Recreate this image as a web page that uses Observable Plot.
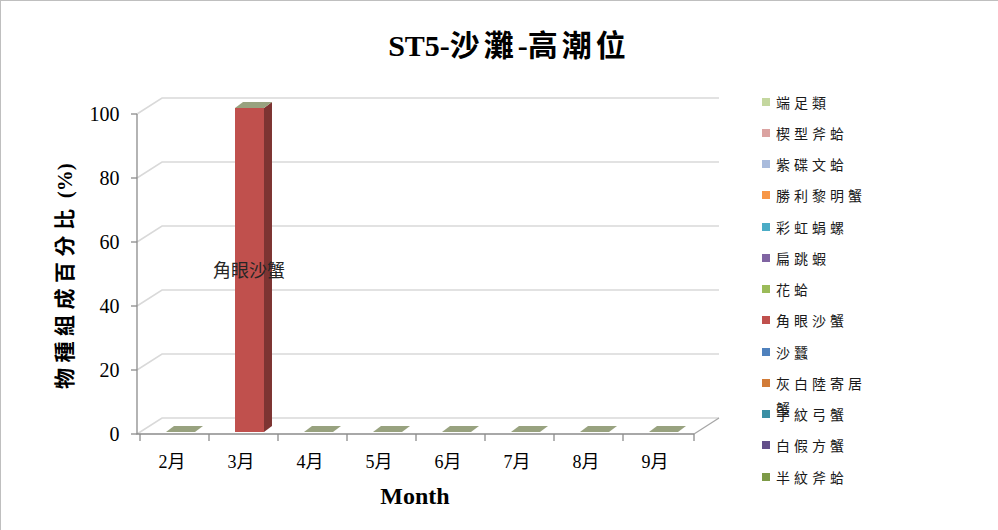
<!DOCTYPE html>
<html>
<head>
<meta charset="utf-8">
<script src="https://cdn.jsdelivr.net/npm/d3@7"></script>
<script src="https://cdn.jsdelivr.net/npm/@observablehq/plot@0.6"></script>
<style>
  html, body { margin: 0; padding: 0; background: #fff; }
  #wrap { position: relative; width: 998px; height: 530px; overflow: hidden;
          border-left: 1px solid #bfbfbf; border-top: 1px solid #bfbfbf; box-sizing: border-box; }
  #chart { position: absolute; left: -1px; top: -1px; }
  .title { position: absolute; left: 0; width: 1016px; top: 23px; text-align: center;
           font-weight: bold; font-size: 30px; line-height: 38px; color: #000; white-space: nowrap; }
  .lat { font-family: "Liberation Serif", "Times New Roman", serif; }
  .cjk { font-family: "Noto Sans CJK TC", sans-serif; letter-spacing: 4px; }
  .ytitle { position: absolute; left: 62px; top: 275px; transform: translate(-50%, -50%) rotate(-90deg);
            font-weight: bold; font-size: 21px; white-space: nowrap; color: #000; }
  .ytitle .cjk { letter-spacing: 5.5px; }
  .xtitle { position: absolute; left: 414px; top: 495px; transform: translate(-50%, -50%);
            font-family: "Liberation Serif", serif; font-weight: bold; font-size: 24px; color: #000; }
  .legend { position: absolute; left: 761px; top: 0; }
  .item { position: absolute; left: 0; width: 130px; }
  .sw { position: absolute; left: 0; width: 8px; height: 8px; top: 8px; }
  .lab { position: absolute; left: 14px; width: 100px; font-family: "Noto Sans CJK TC", sans-serif;
         font-size: 14px; line-height: 25px; letter-spacing: 4px; color: #1a1a1a; }
</style>
</head>
<body>
<div id="wrap">
  <div id="chart"></div>
  <div class="title"><span class="lat">ST5-</span><span class="cjk">沙灘</span><span class="lat">-</span><span class="cjk">高潮位</span></div>
  <div class="ytitle"><span class="cjk">物種組成百分比</span><span class="lat"> (%)</span></div>
  <div class="xtitle">Month</div>
  <div class="legend" id="legend"></div>
</div>
<script>
// ---- data ----
const months = ["2月", "3月", "4月", "5月", "6月", "7月", "8月", "9月"];
const species = ["端足類", "楔型斧蛤", "紫碟文蛤", "勝利黎明蟹", "彩虹蜎螺", "扁跳蝦", "花蛤",
                 "角眼沙蟹", "沙蠶", "灰白陸寄居蟹", "字紋弓蟹", "白假方蟹", "半紋斧蛤"];
const colors = ["#c4d79f", "#dba3a1", "#a9bbdc", "#f79646", "#4bacc6", "#8064a2", "#9bbb59",
                "#c0504d", "#4f81bd", "#d17b37", "#3a8fa4", "#634f8a", "#7d9a47"];
const yTicks = [0, 20, 40, 60, 80, 100];

const amphipod     = [0, 0, 0, 0, 0, 0, 0, 0];
const wedgeClam    = [0, 0, 0, 0, 0, 0, 0, 0];
const sunsetClam   = [0, 0, 0, 0, 0, 0, 0, 0];
const victoryCrab  = [0, 0, 0, 0, 0, 0, 0, 0];
const umbonium     = [0, 0, 0, 0, 0, 0, 0, 0];
const sandHopper   = [0, 0, 0, 0, 0, 0, 0, 0];
const hardClam     = [0, 0, 0, 0, 0, 0, 0, 0];
const ghostCrab    = [0, 100, 0, 0, 0, 0, 0, 0];
const polychaete   = [0, 0, 0, 0, 0, 0, 0, 0];
const hermitCrab   = [0, 0, 0, 0, 0, 0, 0, 0];
const varunaCrab   = [0, 0, 0, 0, 0, 0, 0, 0];
const whiteCrab    = [0, 0, 0, 0, 0, 0, 0, 0];
const halfClam     = [0, 0, 0, 0, 0, 0, 0, 0];
const seriesValues = [amphipod, wedgeClam, sunsetClam, victoryCrab, umbonium, sandHopper, hardClam,
                      ghostCrab, polychaete, hermitCrab, varunaCrab, whiteCrab, halfClam];

// long table: bottom of the stack is the last legend entry
const rows = [];
months.forEach((m, i) => {
  for (let j = species.length - 1; j >= 0; j--) {
    rows.push({month: m, species: species[j], color: colors[j], value: seriesValues[j][i]});
  }
});

// ---- 3D scene drawn through Plot's scales ----
function scene(index, scales, values, dimensions) {
  const x = scales.x, y = scales.y;
  const x0 = dimensions.marginLeft, x1 = dimensions.width - dimensions.marginRight;
  const bw = x.bandwidth ? x.bandwidth() : (x1 - x0) / months.length;
  const DX = 25, DY = -16;        // wall depth
  const bDX = 8, bDY = -6;        // bar depth
  const BW = bw * 0.42, BX = 6, BY = -2, K = 1.0125;
  const by = v => y(0) + BY - (y(0) - y(v)) * K;
  const g = d3.create("svg:g");

  // back wall gridlines + left wall diagonals
  for (const t of yTicks) {
    g.append("path")
      .attr("d", `M${x0},${y(t)}L${x0 + DX},${y(t) + DY}H${x1 + DX}`)
      .attr("fill", "none").attr("stroke", "#d9d9d9").attr("stroke-width", 1.5);
  }
  // floor right edge
  g.append("path").attr("d", `M${x1},${y(0)}L${x1 + DX},${y(0) + DY}`)
    .attr("fill", "none").attr("stroke", "#a6a6a6").attr("stroke-width", 1.2);

  // stacked 3D columns
  months.forEach((m, i) => {
    const xl = x(m) + (bw - BW) / 2 + BX, xr = xl + BW;
    let cum = 0;
    for (let j = species.length - 1; j >= 0; j--) {
      const v = seriesValues[j][i];
      if (v <= 0) continue;
      const yb = by(cum), yt = by(cum + v);
      g.append("rect").attr("x", xl).attr("y", yt).attr("width", BW).attr("height", yb - yt)
        .attr("fill", colors[j]);
      g.append("path")
        .attr("d", `M${xr},${yt}L${xr + bDX},${yt + bDY}L${xr + bDX},${yb + bDY}L${xr},${yb}Z`)
        .attr("fill", d3.color(colors[j]).darker(1.2));
      cum += v;
    }
    const yT = by(cum);
    g.append("path")
      .attr("d", `M${xl},${yT}L${xr},${yT}L${xr + bDX},${yT + bDY}L${xl + bDX},${yT + bDY}Z`)
      .attr("fill", "#98a27f");
  });

  // front axes
  g.append("path").attr("d", `M${x0},${y(100)}V${y(0)}H${x1}`)
    .attr("fill", "none").attr("stroke", "#8c8c8c").attr("stroke-width", 1.3);
  for (const t of yTicks) {
    g.append("path").attr("d", `M${x0 - 6},${y(t)}H${x0}`).attr("stroke", "#8c8c8c").attr("stroke-width", 1.3);
  }
  const bounds = months.map(m => x(m)).concat([x1]);
  for (const b of bounds) {
    g.append("path").attr("d", `M${b},${y(0)}V${y(0) + 7}`).attr("stroke", "#8c8c8c").attr("stroke-width", 1.3);
  }
  return g.node();
}

const chart = Plot.plot({
  width: 998,
  height: 530,
  marginLeft: 137,
  marginRight: 304,
  marginTop: 114,
  marginBottom: 96,
  x: {type: "band", domain: months, padding: 0},
  y: {domain: [0, 100]},
  style: {background: "transparent"},
  marks: [
    scene,
    Plot.text(rows, Plot.stackY({
      x: "month", y: "value", z: "species", text: "species",
      filter: d => d.value > 0,
      dx: 5, dy: -3, fontSize: 18, fill: "#262626",
      fontFamily: "Noto Sans CJK TC, sans-serif"
    })),
    Plot.axisY({ticks: yTicks, tickSize: 0, tickPadding: 18, label: null, fontSize: 20,
                fontFamily: "Liberation Serif, serif", fill: "#000"}),
    Plot.axisX({tickSize: 0, tickPadding: 21, label: null, fontSize: 18, dx: -3,
                fontFamily: "Liberation Serif, Noto Sans CJK TC, serif", fill: "#000"})
  ]
});
document.getElementById("chart").appendChild(chart);

// ---- legend ----
const legend = document.getElementById("legend");
species.forEach((s, j) => {
  const cy = 101 + j * 31.25;
  const item = document.createElement("div");
  item.className = "item";
  item.style.top = (cy - 12.5) + "px";
  const sw = document.createElement("div");
  sw.className = "sw";
  sw.style.background = colors[j];
  const lab = document.createElement("div");
  lab.className = "lab";
  lab.textContent = s;
  item.appendChild(sw);
  item.appendChild(lab);
  legend.appendChild(item);
});
</script>
</body>
</html>
